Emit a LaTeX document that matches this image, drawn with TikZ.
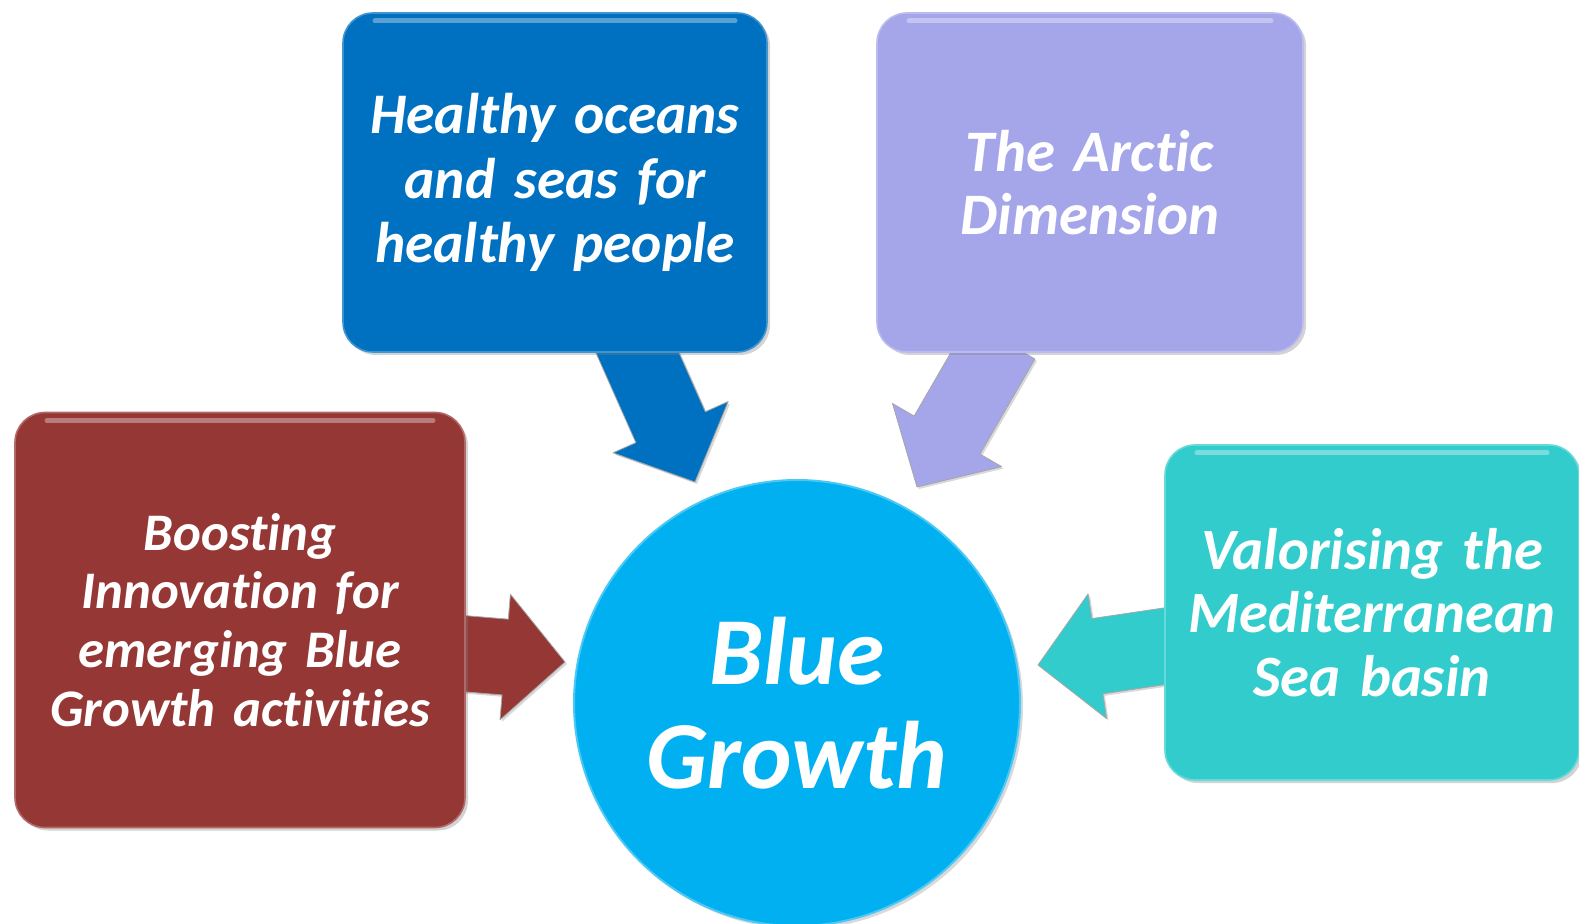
\documentclass[tikz,border=0pt]{standalone}
\usepackage{fontspec}
\setmainfont{Carlito}[Ligatures={NoCommon}]
\usetikzlibrary{calc,shadows}
\definecolor{cred}{HTML}{953735}
\definecolor{cblue}{HTML}{0070C0}
\definecolor{cpurple}{HTML}{A5A5EA}
\definecolor{cteal}{HTML}{33CCCC}
\definecolor{ccirc}{HTML}{00B0F0}
\newcommand\blockarr[3]{%
  \coordinate (#2-hb) at ($(#3)!30pt!(#2)$);
  \draw[#1] ($(#2)!19pt!90:(#3)$) -- ($(#2-hb)!19pt!90:(#3)$) -- ($(#2-hb)!31.5pt!90:(#3)$) -- (#3)
    -- ($(#2-hb)!31.5pt!-90:(#3)$) -- ($(#2-hb)!19pt!-90:(#3)$) -- ($(#2)!19pt!-90:(#3)$) -- cycle;}
\tikzset{
  box/.style={rounded corners=15pt, draw=#1!75!white, line width=0.8pt, fill=#1,
    text=white, align=center, inner sep=0pt,
    drop shadow={opacity=0.35, shadow xshift=1.5pt, shadow yshift=-1.5pt},
    path picture={\draw[white, opacity=0.35, line width=2.5pt, line cap=round]
      ([xshift=16pt,yshift=-4pt]path picture bounding box.north west) --
      ([xshift=-16pt,yshift=-4pt]path picture bounding box.north east);}},
  barrow/.style={fill=#1, draw=black!35, line width=0.4pt, line join=round,
    drop shadow={opacity=0.3, shadow xshift=1pt, shadow yshift=-1pt}},
  hub/.style={circle, fill=ccirc, draw=ccirc!70!white, line width=1pt, text=white,
    align=center, minimum size=223pt, inner sep=0pt,
    drop shadow={opacity=0.3, shadow xshift=1.5pt, shadow yshift=-1.5pt}}
}
\begin{document}
\begin{tikzpicture}[x=0.5pt,y=-0.5pt]
\useasboundingbox (0,0) rectangle (1579,924);
% arrow end points
\coordinate (sB) at (626,327);  \coordinate (tB) at (695,482);
\coordinate (sP) at (1002,340); \coordinate (tP) at (917,487);
\coordinate (sR) at (420,650);  \coordinate (tR) at (565,662);
\coordinate (sT) at (1200,641); \coordinate (tT) at (1038,665);
\blockarr{barrow=cblue}{sB}{tB}
\blockarr{barrow=cpurple}{sP}{tP}
\blockarr{barrow=cred}{sR}{tR}
\blockarr{barrow=cteal}{sT}{tT}
% boxes
\node[box=cred, minimum width=225pt, minimum height=207.5pt, text width=222pt,
  font=\bfseries\itshape\fontsize{26.4}{29.4}\selectfont] (red) at (240,620)
  {Boosting\\Innovation for\\emerging Blue\\Growth activities};
\node[box=cblue, minimum width=212pt, minimum height=169.5pt, text width=208pt,
  font=\bfseries\itshape\fontsize{28.7}{32.3}\selectfont] (blue) at (555,182.5)
  {Healthy oceans\\and seas for\\healthy people};
\node[box=cpurple, minimum width=213pt, minimum height=169.5pt, text width=208pt,
  font=\bfseries\itshape\fontsize{29.4}{31.7}\selectfont] (purple) at (1090,182.5)
  {The Arctic\\Dimension};
\node[box=cteal, minimum width=207pt, minimum height=167.5pt, text width=205pt,
  font=\bfseries\itshape\fontsize{29.3}{31.7}\selectfont] (teal) at (1372,612.5)
  {Valorising the\\Mediterranean\\Sea basin};
% hub
\node[hub, font=\bfseries\itshape\fontsize{48}{52}\selectfont] (hub) at (797,703)
  {Blue\\Growth};
\end{tikzpicture}
\end{document}
